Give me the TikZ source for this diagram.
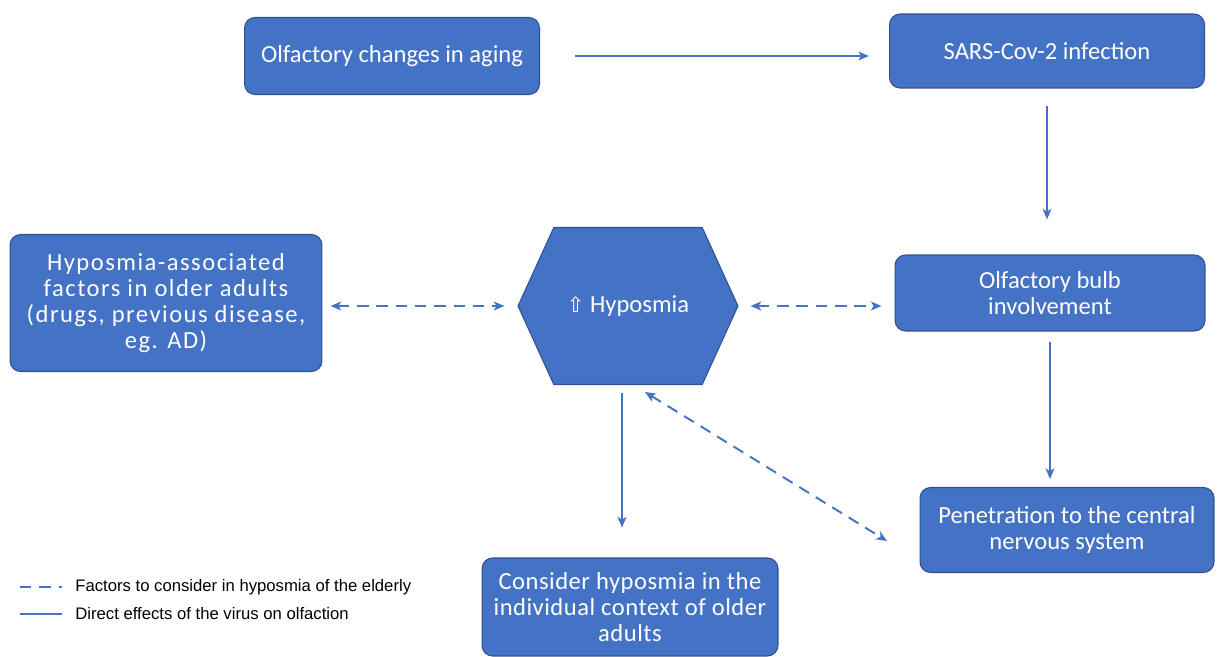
\documentclass[tikz,border=0pt]{standalone}
\usepackage{fontspec}
\setmainfont{Carlito}
\newfontfamily\widefont[LetterSpace=6]{Carlito}
\newfontfamily\semiwidefont[LetterSpace=2]{Carlito}
\newfontfamily\legendfont{Liberation Sans}
\newfontfamily\symbolfont{DejaVu Sans}
\usetikzlibrary{shapes.symbols,arrows.meta}
\definecolor{boxblue}{HTML}{4472C4}
\definecolor{boxedge}{HTML}{2F528F}
\definecolor{linkblue}{HTML}{4472C4}
\tikzset{
  box/.style={rectangle, rounded corners=6pt, fill=boxblue, draw=boxedge,
    line width=0.6pt, text=white, align=center, inner sep=2pt,
    font=\fontsize{14}{14.8}\selectfont},
  widebox/.style={box, font=\widefont\fontsize{14}{14.8}\selectfont},
  semiwidebox/.style={box, font=\semiwidefont\fontsize{14}{14.8}\selectfont},
  hexbox/.style={box, signal, signal to=west and east, signal pointer angle=131,
    rounded corners=0pt},
  link/.style={linkblue, line width=1.1pt, -{Stealth[length=6pt,width=5pt,inset=1.5pt]}},
  twoway/.style={link, {Stealth[length=6pt,width=5pt,inset=1.5pt]}-{Stealth[length=6pt,width=5pt,inset=1.5pt]},
    dash pattern=on 6.5pt off 4.5pt},
  legendtext/.style={anchor=west, inner sep=0pt, font=\legendfont\fontsize{9.5}{11}\selectfont}
}
\begin{document}
\begin{tikzpicture}[x=0.02cm,y=-0.02cm]
    \useasboundingbox (0,0) rectangle (1224,656);
    % Cajas
    \node[box, minimum width=5.9cm, minimum height=1.54cm] (aging) at (392,56)
        {Olfactory changes in aging};
    \node[box, minimum width=6.3cm, minimum height=1.48cm] (sars) at (1047,51)
        {SARS-Cov-2 infection};
    \node[widebox, minimum width=6.24cm, minimum height=2.74cm] (factors) at (166,303)
        {Hyposmia-associated\\factors in older adults\\(drugs, previous disease,\\eg. AD)};
    \node[hexbox, minimum width=4.4cm, minimum height=3.14cm] (hypo) at (628,306)
        {{\symbolfont\fontsize{12}{14}\selectfont ⇧} Hyposmia};
    \node[box, minimum width=6.2cm, minimum height=1.52cm] (bulb) at (1050,293)
        {Olfactory bulb\\involvement};
    \node[box, minimum width=5.88cm, minimum height=1.7cm] (cns) at (1067,530)
        {Penetration to the central\\nervous system};
    \node[semiwidebox, minimum width=5.92cm, minimum height=1.96cm] (context) at (630,607)
        {Consider hyposmia in the\\individual context of older\\adults};
    % Efectos directos
    \draw[link, shorten <=0.7cm, shorten >=0.4cm] (aging.east) -- (aging.east -| sars.west);
    \draw[link, shorten <=0.34cm, shorten >=0.7cm] (sars) -- (sars |- bulb.north);
    \draw[link, shorten <=0.2cm, shorten >=0.16cm] (bulb.south) -- (bulb.south |- cns.north);
    \draw[link, shorten <=0.16cm, shorten >=0.6cm] ([xshift=-0.12cm]hypo.south) -- ([xshift=-0.12cm]hypo.south |- context.north);
    % Factores a considerar
    \draw[twoway, shorten <=0.16cm, shorten >=0.26cm] (factors.east |- hypo.west) -- (hypo.west);
    \draw[twoway, shorten <=0.24cm, shorten >=0.26cm] (hypo.east) -- (hypo.east -| bulb.west);
    \coordinate (diagA) at (645,392);
    \coordinate (diagB) at (887,541);
    \draw[twoway] (diagA) -- (diagB);
    % Leyenda
    \coordinate (keyA) at (20,587);
    \coordinate (keyB) at (62,587);
    \coordinate (keyC) at (20,614);
    \coordinate (keyD) at (62,614);
    \draw[linkblue, line width=1.1pt, dash pattern=on 6.5pt off 4.5pt] (keyA) -- (keyB);
    \draw[linkblue, line width=1.1pt] (keyC) -- (keyD);
    \node[legendtext] (keydash) at (75,587) {Factors to consider in hyposmia of the elderly};
    \node[legendtext] (keysolid) at (75,614) {Direct effects of the virus on olfaction};
\end{tikzpicture}
\end{document}
